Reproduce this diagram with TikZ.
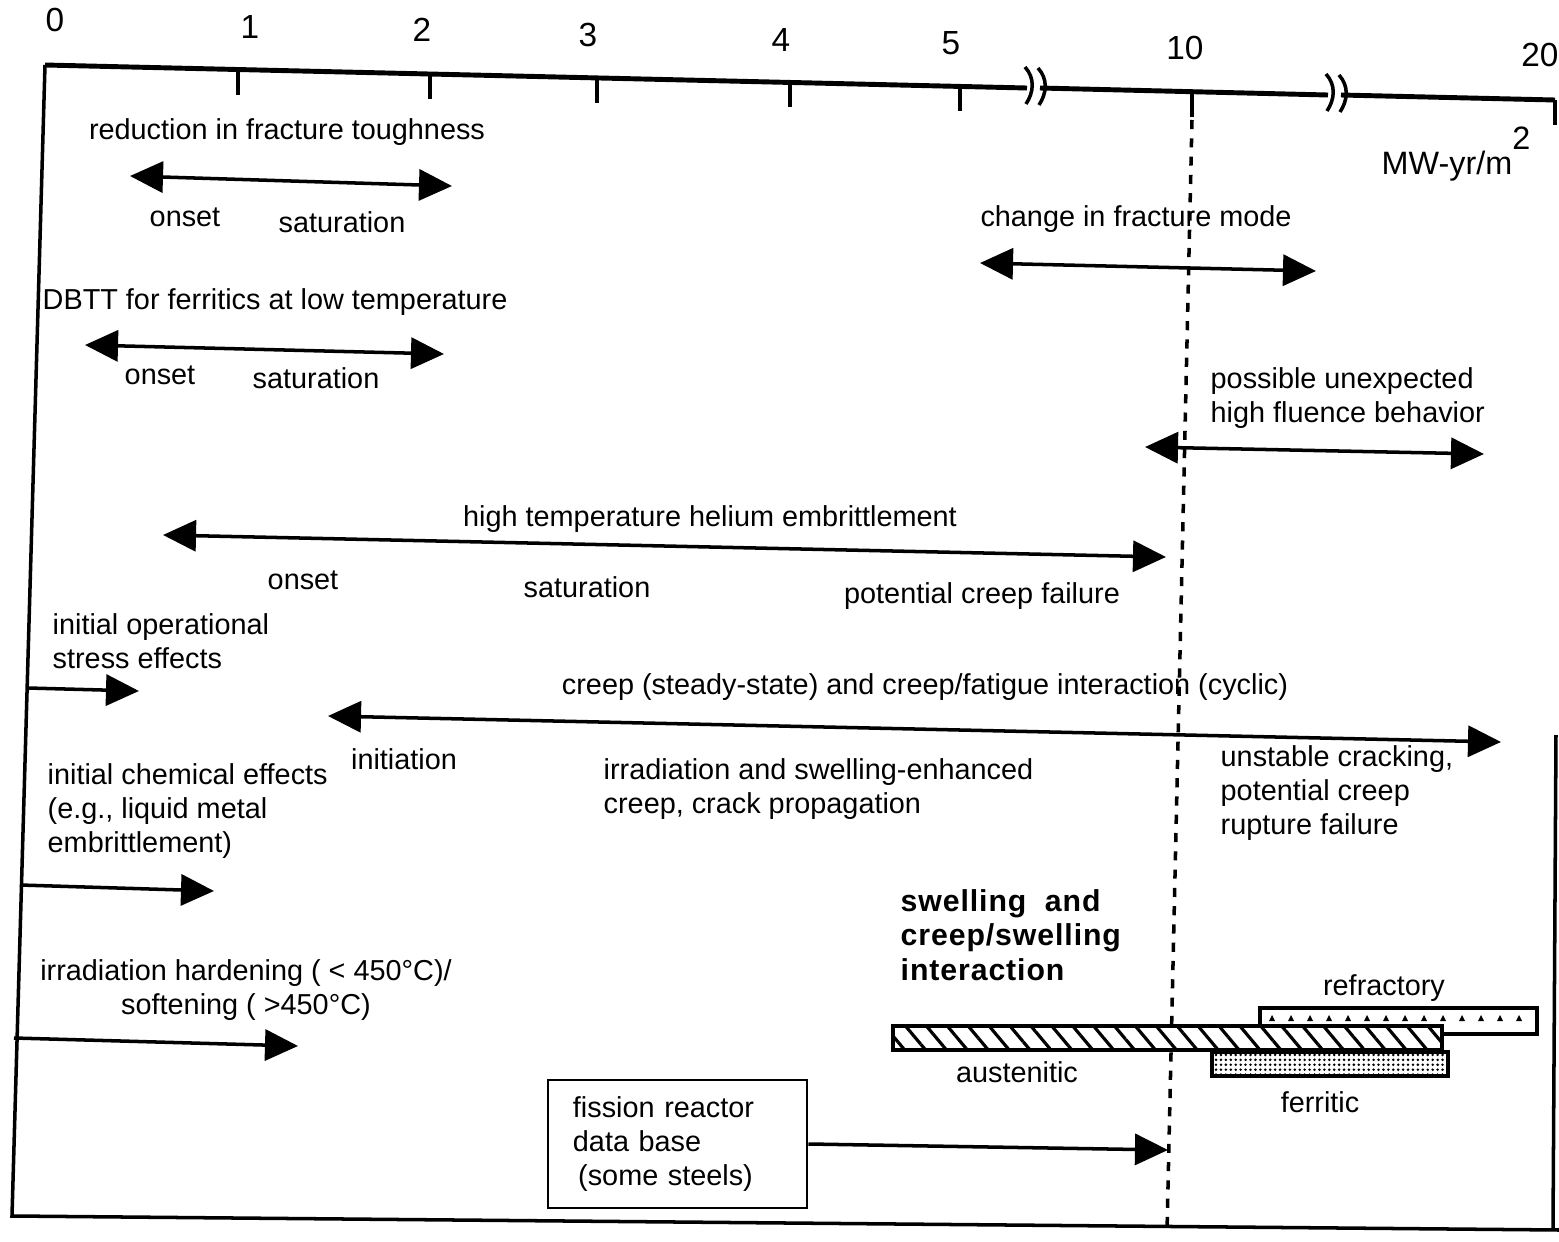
\documentclass[tikz,border=0pt]{standalone}
\usepackage{fontspec}
\setmainfont{Liberation Sans}
\usetikzlibrary{arrows.meta, positioning, calc, patterns, patterns.meta}

\begin{document}
\begin{tikzpicture}[
        x=0.01cm, y=-0.01cm,
        font=\fontsize{8.2}{9.6}\selectfont,
        txt/.style={inner sep=0pt, align=left},
        ctxt/.style={inner sep=0pt, align=center},
        num/.style={inner sep=0pt, font=\fontsize{9.5}{11}\selectfont},
        boldtxt/.style={inner sep=0pt, align=left, font=\fontsize{8.6}{9.8}\selectfont\bfseries\addfontfeatures{LetterSpace=3}},
        axis/.style={line width=1.4pt},
        frame/.style={line width=1pt},
        tick/.style={line width=1pt},
        brk/.style={line width=1pt},
        dbl/.style={line width=1pt, {Triangle[length=3.3mm,width=3.1mm]}-{Triangle[length=3.3mm,width=3.1mm]}},
        sgl/.style={line width=1pt, -{Triangle[length=3.3mm,width=3.1mm]}},
        bar/.style={draw, line width=1.1pt},
        dbox/.style={draw, line width=0.8pt, align=left, text width=2.09cm, inner xsep=0.25cm, minimum height=1.28cm},
        limit/.style={line width=1pt, dash pattern=on 2.6pt off 2.6pt}
    ]
    \useasboundingbox (0,0) rectangle (1559,1242);

    % Rahmen
    \coordinate (c-tl) at (45,65);
    \coordinate (c-bl) at (12,1216);
    \coordinate (c-br) at (1559,1230);
    \coordinate (c-rt) at (1556,735);
    \coordinate (c-rb) at (1553,1230);
    \draw[frame] (c-tl) -- (c-bl) -- (c-br);
    \draw[frame] (c-rt) -- (c-rb);

    % Achse
    \draw[axis] (c-tl) -- (1027,88) (1040,88) -- (1328,95) (1341,95) -- (1555,100);
    \foreach \x/\y in {1027/86,1040/87,1328/93,1341/94}
        \draw[brk] (\x-2,\y-19) .. controls (\x+8,\y-8) and (\x+7,\y+6) .. (\x-1,\y+18);
    \foreach \x/\y in {238/70,430/74,597/78,790/82,960/86,1192/92,1555/100}
        \draw[tick] (\x,\y) -- (\x,\y+25);
    \foreach \t/\x/\y in {0/55/20,1/250/27,2/422/30,3/588/35,4/781/40,5/951/43,10/1185/48,20/1540/55}
        \node[num] (n\t) at (\x,\y) {\t};
    \node[txt, anchor=west, font=\fontsize{9.2}{11}\selectfont] (unit) at (1381,154) {MW-yr/m\raisebox{7pt}{2}};

    % Grenze bei 10
    \coordinate (lim-t) at (1192,120);
    \coordinate (lim-b) at (1167,1232);
    \draw[limit] (lim-t) -- (lim-b);

    % Bruchzaehigkeit
    \node[ctxt] (rft) at (287,132) {reduction in fracture toughness};
    \coordinate (rft-l) at (130,176);
    \coordinate (rft-r) at (452,186);
    \draw[dbl] (rft-l) -- (rft-r);
    \node[ctxt] (rft-on) at (185,217) {onset};
    \node[ctxt] (rft-sat) at (342,222) {saturation};

    % Bruchmodus
    \node[ctxt] (cfm) at (1136,219) {change in fracture mode};
    \coordinate (cfm-l) at (980,263);
    \coordinate (cfm-r) at (1316,271);
    \draw[dbl] (cfm-l) -- (cfm-r);

    % DBTT
    \node[txt, anchor=west] (dbtt) at (42,302) {DBTT for ferritics at low temperature};
    \coordinate (dbtt-l) at (85,345);
    \coordinate (dbtt-r) at (444,354);
    \draw[dbl] (dbtt-l) -- (dbtt-r);
    \node[ctxt] (dbtt-on) at (160,375) {onset};
    \node[ctxt] (dbtt-sat) at (316,378) {saturation};

    % hohe Fluenz
    \node[txt, anchor=west] (phf) at (1210,398) {possible unexpected\\high fluence behavior};
    \coordinate (phf-l) at (1145,447);
    \coordinate (phf-r) at (1484,454);
    \draw[dbl] (phf-l) -- (phf-r);

    % Helium
    \node[ctxt] (he) at (710,519) {high temperature helium embrittlement};
    \coordinate (he-l) at (163,535);
    \coordinate (he-r) at (1166,557);
    \draw[dbl] (he-l) -- (he-r);
    \node[ctxt] (he-on) at (303,580) {onset};
    \node[ctxt] (he-sat) at (587,587) {saturation};
    \node[ctxt] (he-pcf) at (982,596) {potential creep failure};

    % Betriebsspannungen
    \node[txt, anchor=west] (ops) at (52,641) {initial operational\\stress effects};
    \coordinate (ops-s) at (28,688);
    \coordinate (ops-e) at (139,691);
    \draw[sgl] (ops-s) -- (ops-e);

    % Kriechen
    \node[ctxt] (crp) at (925,687) {creep (steady-state) and creep/fatigue interaction (cyclic)};
    \coordinate (crp-l) at (328,716);
    \coordinate (crp-r) at (1501,742);
    \draw[dbl] (crp-l) -- (crp-r);
    \node[ctxt] (crp-ini) at (404,759) {initiation};
    \node[txt, anchor=west] (crp-ise) at (603,789) {irradiation and swelling-enhanced\\creep, crack propagation};
    \node[txt, anchor=west] (crp-ucr) at (1220,793) {unstable cracking,\\potential creep\\rupture failure};

    % Chemie
    \node[txt, anchor=west] (chem) at (47,811) {initial chemical effects\\(e.g., liquid metal\\embrittlement)};
    \coordinate (chem-s) at (20,885);
    \coordinate (chem-e) at (214,891);
    \draw[sgl] (chem-s) -- (chem-e);

    % Schwellen
    \node[boldtxt, anchor=west] (swl) at (900,935) {swelling\ \ and\\creep/swelling\\interaction};

    % Verfestigung
    \node[ctxt] (hard) at (246,990) {irradiation hardening ( < 450°C)/\\softening ( >450°C)};
    \coordinate (hard-s) at (14,1038);
    \coordinate (hard-e) at (298,1046);
    \draw[sgl] (hard-s) -- (hard-e);

    % Balken
    \draw[bar, fill=white] (1260,1008) rectangle (1537,1034);
    \foreach \x in {1272,1291,...,1520}
        \fill (\x-3,1021) -- (\x,1015) -- (\x+3,1021) -- cycle;
    \draw[bar, pattern={Dots[distance=1.4pt,radius=0.4pt]}] (1212,1052) rectangle (1448,1076);
    \draw[bar, preaction={fill=white}, pattern={Lines[angle=-50,distance=1.6mm,line width=0.9pt]}] (893,1026) rectangle (1442,1050);
    \node[ctxt] (refr) at (1384,988) {refractory};
    \node[ctxt] (aust) at (1017,1072) {austenitic};
    \node[ctxt] (ferr) at (1320,1102) {ferritic};

    % Spaltreaktor
    \node[dbox] (fis) at (677.5,1144) {fission reactor\\data base\\\hspace{1.5pt}(some steels)};
    \coordinate (fis-e) at (1168,1150);
    \draw[sgl] (fis.east) -- (fis-e);

\end{tikzpicture}
\end{document}
